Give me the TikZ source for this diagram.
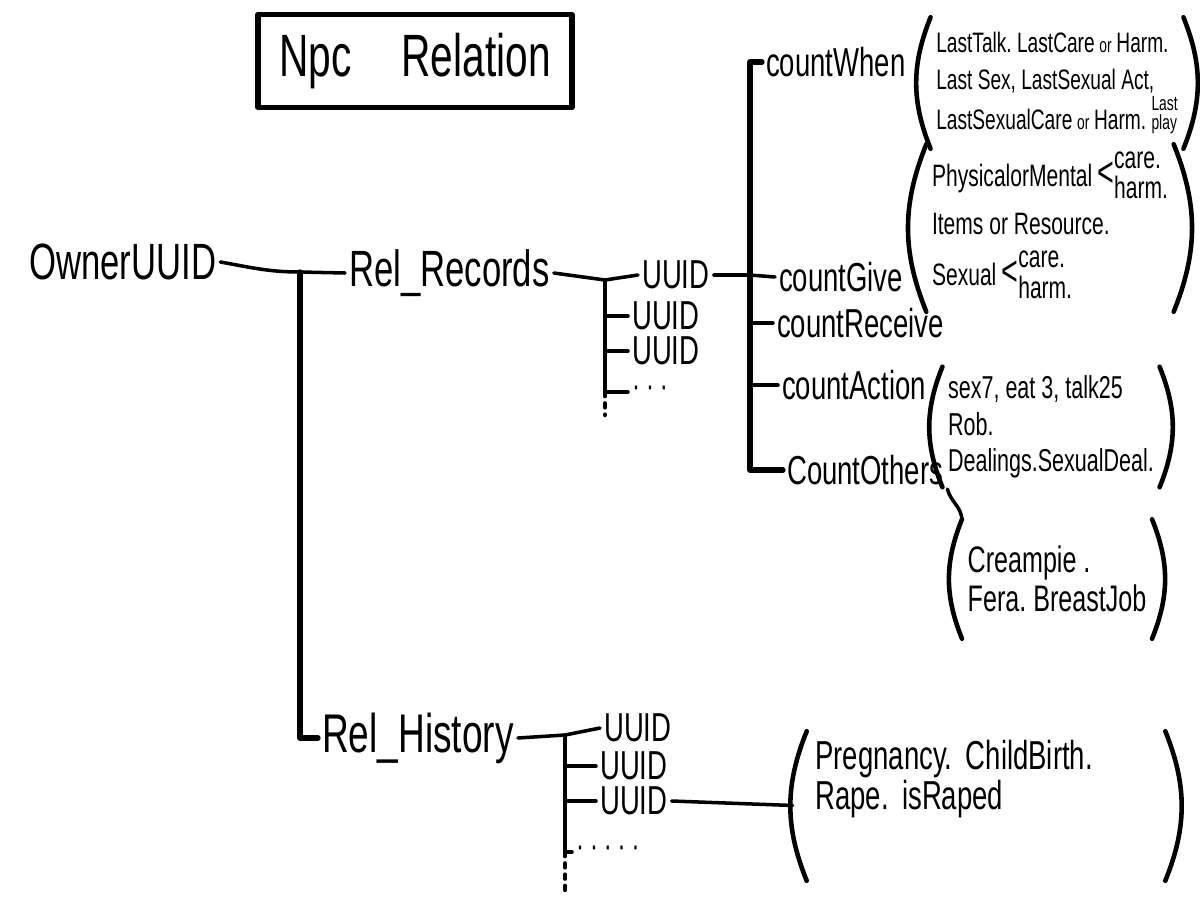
\documentclass[tikz,border=0pt]{standalone}
\usepackage{fontspec}
\setmainfont{Liberation Sans}[FakeStretch=0.68]
\usetikzlibrary{positioning}
\usetikzlibrary{calc}
\renewcommand{\arraystretch}{0.75}
\frenchspacing

% small words inside the lists
\newcommand{\sm}[1]{{\fontsize{5.8}{5.8}\selectfont #1}}
\newcommand{\careharm}{\,{\fontsize{12}{12}\selectfont<}\begin{tabular}[c]{@{}l@{}}care.\\harm.\end{tabular}}

\begin{document}
\begin{tikzpicture}[x=0.01cm, y=-0.01cm,
    ink/.style={line width=1pt, line cap=round, line join=round},
    heavy/.style={line width=1.5pt, line cap=round, line join=round},
    dotline/.style={line width=1.2pt, dotted, line cap=round},
    paren/.style={line width=1.3pt, line cap=round},
    word/.style={inner sep=1pt, anchor=west},
    uuid/.style={word, font=\fontsize{11.5}{11.5}\selectfont},
    counter/.style={word, font=\fontsize{11.5}{11.5}\selectfont},
    bunch/.style={inner sep=0.05cm, align=left}]

    \useasboundingbox (0,0) rectangle (1200,900);

    % Title
    \node[draw, heavy, minimum width=3.14cm, minimum height=0.93cm,
          font=\fontsize{17}{17}\selectfont] (title) at (415,61) {Npc\hspace{0.5cm}Relation};

    % Owner and its two lists
    \node[word, font=\fontsize{14.5}{14.5}\selectfont] (owner) at (25,262) {OwnerUUID};
    \node[word, font=\fontsize{14.5}{14.5}\selectfont] (records) at (345,273) {Rel\_Records};
    \node[word, font=\fontsize{15.5}{15.5}\selectfont] (history) at (318,738) {Rel\_History};

    \coordinate (j1) at (300,272);
    \draw[ink] (owner.east) to[out=-10, in=180] (j1) -- (records.west);
    \draw[heavy] (j1) |- (history.west);

    % Records, one per UUID
    \node[uuid] (ru1) at (638,275) {UUID};
    \node[uuid] (ru2) at (628,316) {UUID};
    \node[uuid] (ru3) at (628,351) {UUID};
    \node[word] (rmore) at (628,392) {·\,·\,·};

    \coordinate (j2) at (605,280);
    \coordinate (j2end) at (605,415);
    \draw[ink] (records.east) -- (j2) -- (ru1.west);
    \draw[ink] (j2) -- (j2 |- rmore);
    \draw[dotline] (j2 |- rmore) -- (j2end);
    \foreach \n in {ru2,ru3,rmore} \draw[ink] (j2 |- \n) -- (\n.west);

    % Counters of one record
    \node[counter] (cwhen) at (762,62) {countWhen};
    \node[counter] (cgive) at (775,277) {countGive};
    \node[counter] (crecv) at (773,323) {countReceive};
    \node[counter] (cact) at (778,385) {countAction};
    \node[counter] (cothers) at (783,470) {CountOthers};

    \coordinate (j3) at (750,275);
    \draw[ink] (ru1.east) -- (j3) -- (cgive.west);
    \draw[heavy] (cwhen.west) -| (j3) |- (cothers.west);
    \foreach \n in {crecv,cact} \draw[ink] (j3 |- \n) -- (\n.west);

    % What each counter holds
    \node[bunch, minimum width=2.5cm, minimum height=1.3cm, font=\fontsize{8}{10.5}\selectfont]
        (whenbox) at (1057,83) {LastTalk. LastCare\,\sm{or}\,Harm.\\Last Sex, LastSexual Act,\\LastSexualCare\,\sm{or}\,Harm. \sm{\begin{tabular}[b]{@{}l@{}}Last\\play\end{tabular}}};
    \node[bunch, minimum width=2.4cm, minimum height=1.53cm, font=\fontsize{8.8}{10}\selectfont]
        (givebox) at (1050,228) {PhysicalorMental\careharm\\[1pt]Items or Resource.\\[3pt]Sexual\careharm};
    \node[bunch, minimum width=1.95cm, minimum height=1.19cm, font=\fontsize{9}{10.3}\selectfont]
        (actbox) at (1051,427) {sex7, eat 3, talk25\\Rob.\\Dealings.SexualDeal.};
    \node[bunch, minimum width=1.85cm, minimum height=1.18cm, font=\fontsize{10.5}{11}\selectfont]
        (othbox) at (1057,579) {Creampie .\\Fera. BreastJob};

    \draw[ink] (cothers.south east) to[out=-75, in=95] (othbox.north west);

    % History, one per UUID
    \node[uuid] (hu1) at (600,728) {UUID};
    \node[uuid] (hu2) at (596,766) {UUID};
    \node[uuid] (hu3) at (596,801) {UUID};
    \node[word] (hmore) at (572,852) {·\,·\,·\,·\,·};

    \coordinate (j4) at (565,735);
    \coordinate (j4end) at (565,890);
    \draw[ink] (history.east) -- (j4) -- (hu1.west);
    \draw[ink] (j4) -- (j4 |- hmore);
    \draw[dotline] (j4 |- hmore) -- (j4end);
    \foreach \n in {hu2,hu3,hmore} \draw[ink] (j4 |- \n) -- (\n.west);

    \node[bunch, inner xsep=0.08cm, text width=3.41cm, minimum height=1.48cm, font=\fontsize{11.5}{11.5}\selectfont]
        (histbox) at (986,806) {Pregnancy. ChildBirth.\\Rape. isRaped\\\rule{0pt}{0.5cm}};
    \draw[ink, shorten >=0.14cm] (hu3.east) -- (histbox.west);

    % Round brackets
    \foreach \b in {whenbox,givebox,actbox,othbox,histbox} {
        \draw[paren] (\b.north west) to[bend right=22] (\b.south west);
        \draw[paren] (\b.north east) to[bend left=22] (\b.south east);
    }
\end{tikzpicture}
\end{document}
